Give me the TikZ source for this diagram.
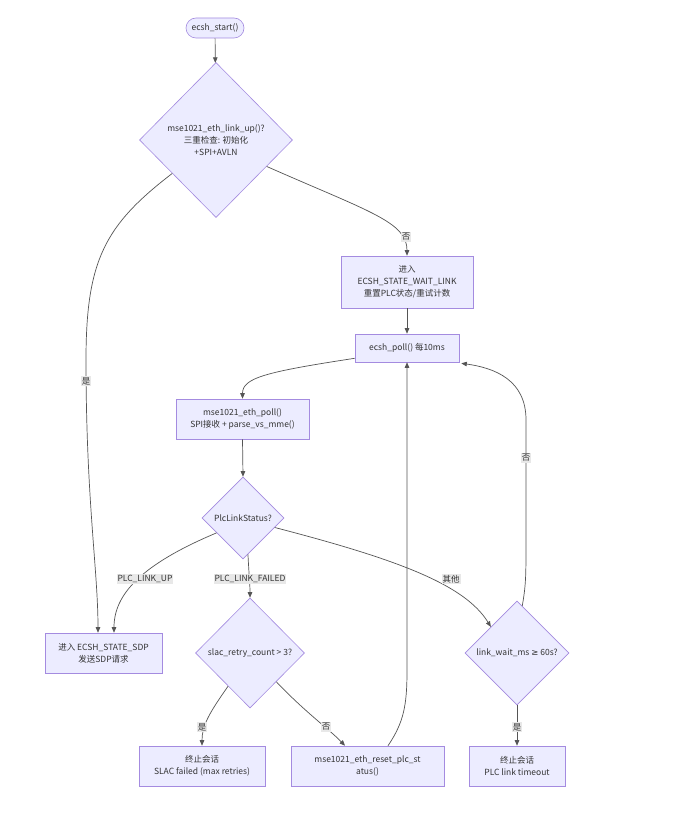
\documentclass[tikz,border=0pt]{standalone}
\usepackage{fontspec}
\setmainfont{Noto Sans CJK SC}
\newfontfamily\symfont{DejaVu Sans}
\usetikzlibrary{shapes.geometric,arrows.meta,calc}
\definecolor{nodefill}{HTML}{ECECFF}
\definecolor{nodeline}{HTML}{A48BE0}
\definecolor{edgecol}{HTML}{555555}
\definecolor{lblbg}{HTML}{E8E8E8}
\definecolor{txt}{HTML}{333333}
\begin{document}
\begin{tikzpicture}[x=1pt,y=-1pt,
  base/.style={draw=nodeline, fill=nodefill, text=txt, font=\fontsize{8.5}{12}\selectfont, align=center, inner sep=0pt, line width=0.6pt},
  boxnode/.style={base, rectangle},
  decision/.style={base, diamond, aspect=1},
  arr/.style={draw=edgecol, line width=0.7pt, -{Stealth[length=5.5pt,width=4.5pt,inset=0pt]}},
  lbl/.style={fill=lblbg, text=txt, font=\fontsize{8.5}{10}\selectfont, inner sep=1pt}
]
\useasboundingbox (0,0) rectangle (672,813);
\fill[white] (0,0) rectangle (672,813);

% nodes
\node[boxnode, rounded corners=10pt, minimum width=58pt, minimum height=20pt] (start) at (215,28) {ecsh\_start()};
\node[decision, minimum width=153pt, minimum height=155pt] (d1) at (216,140) {mse1021\_eth\_link\_up()?\\三重检查: 初始化\\+SPI+AVLN};
\node[boxnode, minimum width=132pt, minimum height=52pt] (wait) at (407,282) {进入\\ECSH\_STATE\_WAIT\_LINK\\重置PLC状态/重试计数};
\node[boxnode, minimum width=104pt, minimum height=28pt] (poll) at (407,348) {ecsh\_poll() 每10ms};
\node[boxnode, minimum width=133pt, minimum height=40pt] (ep) at (242.5,419) {mse1021\_eth\_poll()\\SPI接收 + parse\_vs\_mme()};
\node[decision, minimum width=82pt, minimum height=82pt] (pls) at (243,518) {PlcLinkStatus?};
\node[boxnode, minimum width=117pt, minimum height=40pt] (sdp) at (103.5,653) {进入 ECSH\_STATE\_SDP\\发送SDP请求};
\node[decision, minimum width=109pt, minimum height=110pt] (slac) at (250,653) {slac\_retry\_count > 3?};
\node[decision, minimum width=104pt, minimum height=104pt] (lw) at (517,653) {link\_wait\_ms {\symfont ≥} 60s?};
\node[boxnode, minimum width=126pt, minimum height=40pt] (fail) at (202,766) {终止会话\\SLAC failed (max retries)};
\node[boxnode, minimum width=153pt, minimum height=40pt] (reset) at (367.5,766) {mse1021\_eth\_reset\_plc\_st\\atus()};
\node[boxnode, minimum width=96pt, minimum height=40pt] (tout) at (517,766) {终止会话\\PLC link timeout};

% edges
\draw[arr] (start) -- (d1);
\draw[arr] ($(d1.west)!0.43!(d1.south)$) .. controls (105,225) and (86,260) .. (86,360) .. controls (86,500) and (98,570) .. ([xshift=-5.5pt]sdp.north);
\draw[arr] ($(d1.east)!0.34!(d1.south)$) .. controls (370,212) and (407,222) .. (wait.north);
\draw[arr] (wait.south) -- (poll.north);
\draw[arr] ([yshift=4pt]poll.south west) .. controls (265,372) and (242.5,378) .. (ep.north);
\draw[arr] (ep.south) -- (pls.north);
\draw[arr] ($(pls.west)!0.36!(pls.south)$) .. controls (140,565) and (114,595) .. ([xshift=10.5pt]sdp.north);
\draw[arr] ($(pls.south)!0.12!(pls.east)$) .. controls (249,575) and (250,585) .. (slac.north);
\draw[arr] ($(pls.east)!0.23!(pls.south)$) .. controls (400,560) and (465,585) .. ($(lw.north)!0.5!(lw.west)$);
\draw[arr] ($(slac.west)!0.6!(slac.south)$) .. controls (210,712) and (202,725) .. (fail.north);
\draw[arr] ($(slac.east)!0.52!(slac.south)$) .. controls (305,712) and (330,730) .. ([xshift=-22.5pt]reset.north);
\draw[arr] ([xshift=20.5pt]reset.north) .. controls (404,722) and (407,705) .. (407,670) -- (poll.south);
\draw[arr] ($(lw.north)!0.1!(lw.east)$) .. controls (526,585) and (526,575) .. (526,540) -- (526,420) .. controls (526,380) and (495,368) .. ([xshift=2pt,yshift=-1pt]poll.south east);
\draw[arr] (lw.south) -- (tout.north);

% edge labels
\node[lbl] (l1) at (86,381) {是};
\node[lbl] (l2) at (406,237) {否};
\node[lbl] (l3) at (145,579) {PLC\_LINK\_UP};
\node[lbl] (l4) at (250,579) {PLC\_LINK\_FAILED};
\node[lbl] (l5) at (451,579) {其他};
\node[lbl] (l6) at (202,727) {是};
\node[lbl] (l7) at (326,727) {否};
\node[lbl] (l8) at (526,458) {否};
\node[lbl] (l9) at (517,727) {是};
\end{tikzpicture}
\end{document}
